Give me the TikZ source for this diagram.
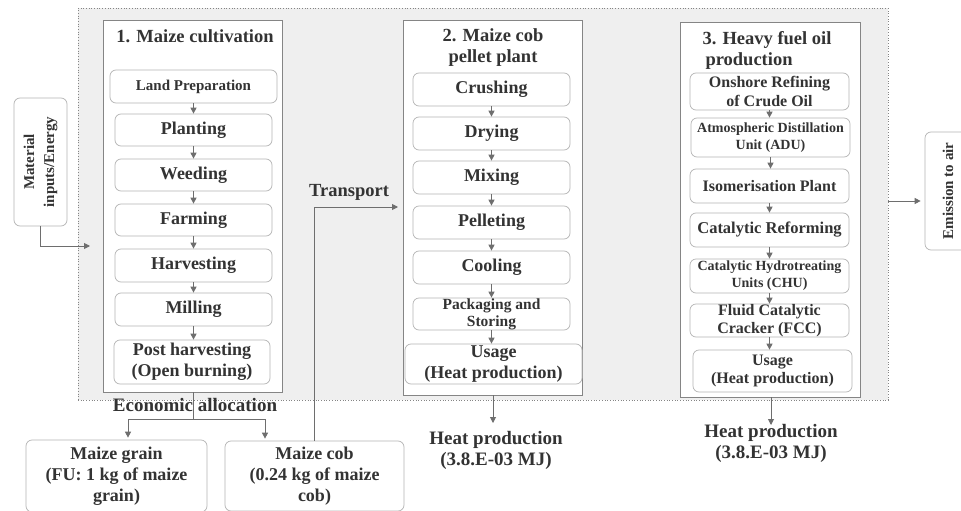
\documentclass[tikz,border=0pt]{standalone}
\usepackage{fontspec}
\setmainfont{Liberation Serif}
\usetikzlibrary{arrows.meta}
\definecolor{txt}{HTML}{333333}
\definecolor{bg}{HTML}{EFEFEF}
\definecolor{grpline}{HTML}{858585}
\definecolor{subline}{HTML}{B4B4B4}
\definecolor{arrc}{HTML}{6E6E6E}
\newcommand{\fz}[2]{\fontsize{#1}{#2}\selectfont\bfseries}
\begin{document}
\begin{tikzpicture}[x=1pt,y=-1pt,
  every node/.style={text=txt,inner sep=0pt,align=center},
  outerbox/.style={draw=grpline,dotted,fill=bg,line width=0.7pt},
  grp/.style={draw=grpline,fill=white,line width=0.9pt},
  sub/.style={draw=subline,fill=white,rounded corners=6pt,line width=0.7pt,font=\fz{18}{21}},
  lab/.style={font=\fz{18.5}{21}},
  arr/.style={draw=arrc,line width=0.9pt,-{Triangle[length=6pt,width=6pt]}},
  ln/.style={draw=arrc,line width=0.9pt},
]
\clip (0,0) rectangle (961,511);
\fill[white] (0,0) rectangle (961,511);

% system boundary
\node[outerbox,minimum width=810,minimum height=392] (sys) at (483,204) {};

% ---------- group 1
\node[grp,minimum width=179,minimum height=372] (g1) at (192.5,206) {};
\node[lab] (t1) at (195,36) {1. Maize cultivation};
\node[sub,font=\fz{15}{18},minimum width=167,minimum height=33] (lp) at (193.5,86.5) {Land Preparation};
\node[sub,minimum width=157,minimum height=32] (pl) at (193.5,130) {Planting};
\node[sub,minimum width=157,minimum height=32] (we) at (193.5,175) {Weeding};
\node[sub,minimum width=157,minimum height=32] (fa) at (193.5,220) {Farming};
\node[sub,minimum width=157,minimum height=33] (ha) at (193.5,265.5) {Harvesting};
\node[sub,minimum width=157,minimum height=33] (mi) at (193.5,309.5) {Milling};
\node[sub,minimum width=156,minimum height=44] (ph) at (192,362) {Post harvesting\\(Open burning)};
\foreach \a/\b in {lp/pl,pl/we,we/fa,fa/ha,ha/mi,mi/ph}
  \draw[arr] (\a.south) -- (\a.south |- \b.north);

% ---------- group 2
\node[grp,minimum width=179,minimum height=375] (g2) at (492.5,207.5) {};
\node[lab] (t2) at (493,48) {2. Maize cob\\pellet plant};
\node[sub,minimum width=157,minimum height=33] (cr) at (491.5,89.5) {Crushing};
\node[sub,minimum width=157,minimum height=33] (dr) at (491.5,133.5) {Drying};
\node[sub,minimum width=157,minimum height=33] (mx) at (491.5,177.5) {Mixing};
\node[sub,minimum width=157,minimum height=33] (pe) at (491.5,222.5) {Pelleting};
\node[sub,minimum width=157,minimum height=33] (co) at (491.5,267.5) {Cooling};
\node[sub,font=\fz{15.5}{17},minimum width=157,minimum height=32] (pa) at (491.5,314) {Packaging and\\Storing};
\node[sub,minimum width=177,minimum height=40,text depth=4pt] (us2) at (493.5,364) {Usage\\(Heat production)};
\foreach \a/\b in {cr/dr,dr/mx,mx/pe,pe/co,co/pa,pa/us2}
  \draw[arr] (\a.south) -- (\a.south |- \b.north);

% ---------- group 3
\node[grp,minimum width=180,minimum height=375] (g3) at (770,209.5) {};
\node[lab,align=left] (t3) at (767,50) {3. Heavy fuel oil\\\hspace*{3pt}production};
\node[sub,font=\fz{16}{19},minimum width=159,minimum height=37] (on) at (769.5,91.5) {Onshore Refining\\of Crude Oil};
\node[sub,font=\fz{14}{17},minimum width=159,minimum height=39] (adu) at (770.5,137.5) {Atmospheric Distillation\\Unit (ADU)};
\node[sub,font=\fz{16}{19},minimum width=159,minimum height=34] (iso) at (769.5,186) {Isomerisation Plant};
\node[sub,font=\fz{16.5}{19},minimum width=159,minimum height=34] (cref) at (769.5,230) {Catalytic Reforming};
\node[sub,font=\fz{14}{17},minimum width=159,minimum height=34] (chu) at (769.5,276) {Catalytic Hydrotreating\\Units (CHU)};
\node[sub,font=\fz{16}{18},minimum width=159,minimum height=33] (fcc) at (769.5,320.5) {Fluid Catalytic\\Cracker (FCC)};
\node[sub,font=\fz{16}{18},minimum width=159,minimum height=42] (us3) at (772.5,371) {Usage\\(Heat production)};
\foreach \a/\b in {on/adu,adu/iso,iso/cref,cref/chu,chu/fcc,fcc/us3}
  \draw[arr] (\a.south) -- (\a.south |- \b.north);

% ---------- inputs / outputs
\node[sub,rotate=90,font=\fz{15}{20},minimum width=128,minimum height=53] (mat) at (40.5,162) {Material\\inputs/Energy};
\coordinate (matin) at (90,246);
\draw[arr] (mat.west) |- (matin);

\node[sub,rotate=90,font=\fz{15}{18},minimum width=118,minimum height=46] (em) at (948,191) {Emission to air};
\draw[arr,shorten >=4pt] ([yshift=3pt]sys.east) -- ([yshift=3pt]sys.east -| em.north);

% heat outputs
\node[lab,font=\fz{19}{21}] (h2) at (496,450) {Heat production\\(3.8.E-03 MJ)};
\node[lab,font=\fz{19}{21}] (h3) at (771,443.5) {Heat production\\(3.8.E-03 MJ)};
\coordinate (h2in) at (493,423);
\coordinate (h3in) at (771,425);
\draw[arr] (g2.south -| h2in) -- (h2in);
\draw[arr] (g3.south -| h3in) -- (h3in);

% allocation
\node[sub,minimum width=181,minimum height=72] (grain) at (116.5,476) {Maize grain\\(FU: 1 kg of maize\\grain)};
\node[sub,minimum width=179,minimum height=70] (cob) at (314.5,476) {Maize cob\\(0.24 kg of maize\\cob)};
\node[lab,font=\fz{19}{21}] (ea) at (195,405) {Economic allocation};
\coordinate (split) at (193,419);
\draw[ln] (g1.south -| split) -- (split);
\draw[arr,shorten >=2pt] (split) -| ([xshift=11.5pt]grain.north);
\draw[arr,shorten >=2pt] (split) -| ([xshift=-49.5pt]cob.north);

% transport
\node[lab] (tr) at (349,192) {Transport};
\coordinate (tin) at (398,207);
\draw[arr] (cob.north) |- (tin);
\end{tikzpicture}
\end{document}
